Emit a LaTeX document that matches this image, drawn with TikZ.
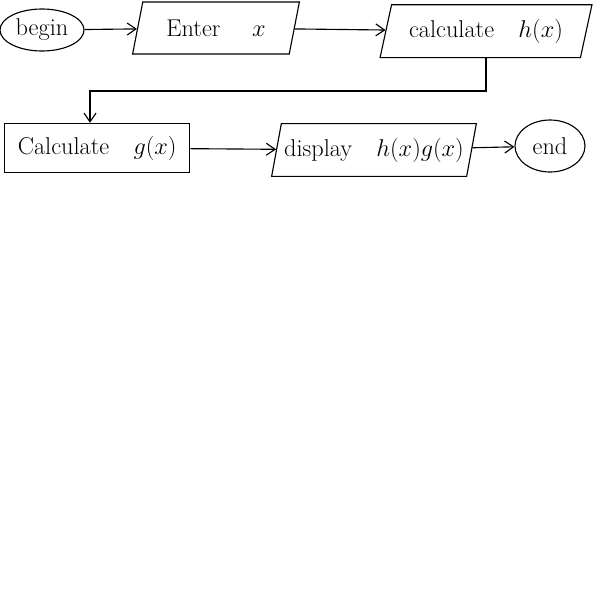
\documentclass[tikz,border=0pt]{standalone}
\usetikzlibrary{shapes.geometric, arrows.meta}
\tikzset{
    term/.style={draw, ellipse, thick, inner sep=0pt, font=\LARGE},
    io/.style={draw, trapezium, trapezium left angle=72, trapezium right angle=108, trapezium stretches=true, thick, inner sep=2pt, font=\LARGE},
    proc/.style={draw, rectangle, thick, font=\LARGE},
    flow/.style={-{Straight Barb[length=2.2mm, width=3mm]}, thick}
}
\begin{document}
\begin{tikzpicture}
        \useasboundingbox (0, 0) rectangle (15, -15);
        \node[term, minimum width=2.1cm, minimum height=1.05cm] (begin) at (1.05, -0.75) {begin};
        \node[io, minimum width=4.2cm, minimum height=1.3cm] (enter) at (5.4, -0.7) {Enter\quad\ $x$};
        \node[io, minimum width=5.3cm, minimum height=1.32cm] (hx) at (12.15, -0.78) {calculate\quad $h(x)$};
        \node[proc, minimum width=4.63cm, minimum height=1.23cm] (gx) at (2.43, -3.7) {Calculate\quad $g(x)$};
        \node[io, minimum width=4.9cm, minimum height=1.32cm] (show) at (9.35, -3.75) {display\quad $h(x)g(x)$};
        \node[term, minimum width=1.75cm, minimum height=1.3cm] (end) at (13.75, -3.65) {end};

        \draw[flow] (begin) -- (enter);
        \draw[flow] (enter) -- (hx);
        \draw[flow] (hx.south) -- ++(0, -0.82) -| ([xshift=-0.18cm]gx.north);
        \draw[flow] (gx) -- (show);
        \draw[flow] (show) -- (end);
    \end{tikzpicture}
\end{document}
